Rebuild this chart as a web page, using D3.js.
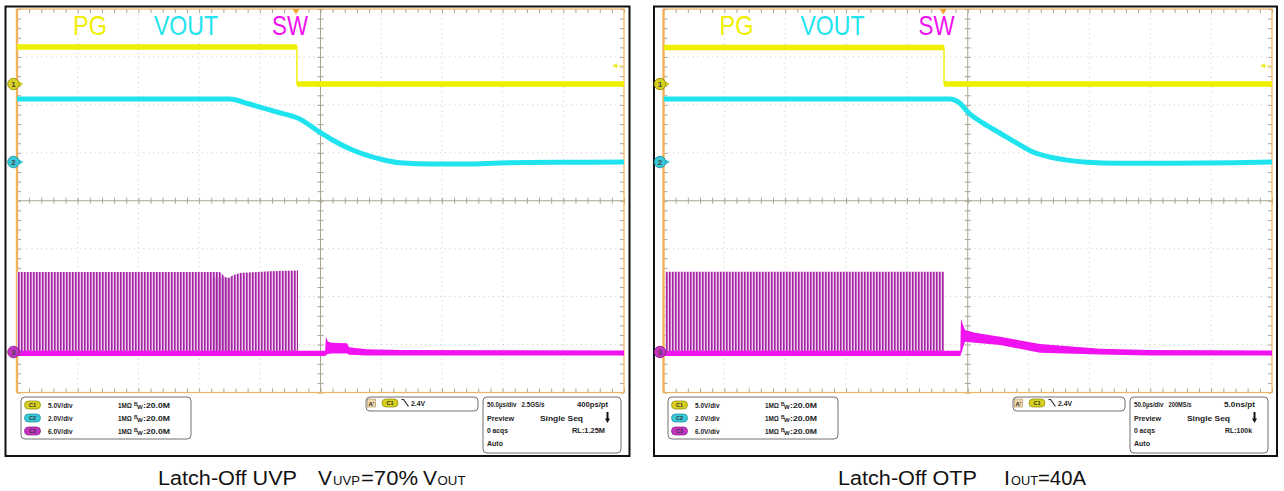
<!DOCTYPE html>
<html><head><meta charset="utf-8">
<script src="https://cdn.jsdelivr.net/npm/d3@7"></script>
<style>html,body{margin:0;padding:0;background:#fff;} svg{display:block;font-family:"Liberation Sans",Arial,sans-serif;}</style>
</head><body><svg id="c" width="1284" height="491"></svg>
<script>
// ================= DATA =================
const timeDomainUs = [0, 500];              // 10 div x 50 us/div
const channelLabels = ["PG", "VOUT", "SW"];
const voltsPerDiv = [5, 2, 6];
const channelOffsetDiv = [2.435, 0.808, -3.155];
const triggerTimeUs = 229.8;
const triggerArrowV = 1.9;

// Left scope: Latch-Off UVP   [time us, volts]
const pgUVP = [[0,3.86],[230.6,3.86],[230.6,0],[500,0]];
const voutUVP = [[0,2.63],[175,2.63],[191.4,2.42],[213.7,2.09],[232.7,1.80],[249.2,1.25],[259.9,0.92],[276.4,0.50],[298.7,0.13],[315.2,-0.03],[342.4,-0.08],[370.5,-0.08],[397.7,-0.04],[453,-0.01],[500,0]];
const swPulseTopUVP = [[0,10.0],[167.2,10.0],[170.5,9.5],[173.8,9.2],[177.9,9.6],[183.7,9.9],[208.4,10.1],[231.5,10.2]];
const swDenseUVP = [[161,176]];
// [time us, band top V, band bottom V]
const swBandUVP = [[0,0.15,-0.5],[253.8,0.15,-0.5],[254.5,1.9,-0.4],[256,1.3,-0.25],[259,1.15,-0.2],[271.8,1.1,-0.2],[273.5,0.6,-0.35],[288.3,0.35,-0.45],[315.5,0.25,-0.45],[500,0.2,-0.45]];

// Right scope: Latch-Off OTP
const pgOTP = [[0,3.8],[230.5,3.8],[230.5,0],[500,0]];
const voutOTP = [[0,2.63],[232.7,2.63],[235.2,2.63],[243.4,2.46],[250,2.09],[262.3,1.63],[276.3,1.21],[290.3,0.79],[303.5,0.42],[317.4,0.21],[331.4,0.08],[347.9,-0.01],[372.5,-0.05],[413.6,-0.05],[467.9,-0.03],[500,0]];
const swPulseTopOTP = [[1.5,10.05],[230.5,10.05]];
const swDenseOTP = [];
const swBandOTP = [[0,0.15,-0.5],[243.9,0.15,-0.5],[244.4,4.13,-0.3],[247.7,2.75,1.29],[255.9,2.42,1.16],[276.5,1.91,0.88],[309.4,1.0,-0.09],[358.7,0.4,-0.3],[399.8,0.25,-0.45],[500,0.2,-0.45]];

// Readout texts
const chScaleText = ["5.0V/div", "2.0V/div", "6.0V/div"];
const chCouplingText = "1MΩ";
const chBwText = "20.0M";
const triggerText = "2.4V";
const timebaseUVP = ["50.0µs/div", "2.5GS/s", "400ps/pt", "RL:1.25M"];
const timebaseOTP = ["50.0µs/div", "200MS/s", "5.0ns/pt", "RL:100k"];
const captionUVP = [["Latch-Off UVP", 0], ["V", 0], ["UVP", 1], ["=70%", 0], ["V", 0], ["OUT", 1]];
const captionOTP = [["Latch-Off OTP", 0], ["I", 0], ["OUT", 1], ["=40A", 0]];

// ================= STYLE / LAYOUT =================
const traceColors = ["#efef00", "#1fe3ee", "#f012f0"];
const pillFill = ["#d8d020", "#38c9da", "#c634c6"];
const pillStroke = ["#8c8600", "#168a98", "#7c187c"];

const svg = d3.select("#c");
const defs = svg.append("defs");
const pat = defs.append("pattern").attr("id", "swStripes")
  .attr("patternUnits", "userSpaceOnUse").attr("width", 3).attr("height", 8);
pat.append("rect").attr("width", 3).attr("height", 8).attr("fill", "#ebcdeb");
pat.append("rect").attr("width", 1).attr("height", 8).attr("fill", "#9e289e");
pat.append("rect").attr("x", 1).attr("width", 1).attr("height", 8).attr("fill", "#c860c8");

const panels = [
  { frame: [5.5, 6.5, 629.5, 456], grat: [17, 9, 624, 392.5], pg: pgUVP, vout: voutUVP, swTop: swPulseTopUVP, dense: swDenseUVP, swBand: swBandUVP, tb: timebaseUVP, dx: 0,
    caption: captionUVP, capX: [158, 318, 333, 361, 423, 437.5], capW: [139, 14, 27, 57, 14, 28] },
  { frame: [654, 6.5, 1277, 456], grat: [663.5, 9, 1272, 392.5], pg: pgOTP, vout: voutOTP, swTop: swPulseTopOTP, dense: swDenseOTP, swBand: swBandOTP, tb: timebaseOTP, dx: 647,
    caption: captionOTP, capX: [838, 1004, 1011, 1038], capW: [139, 6, 27, 48] }
];

panels.forEach((p, pi) => {
  const [gL, gT, gR, gB] = p.grat;
  const g = svg.append("g");
  const x = d3.scaleLinear().domain(timeDomainUs).range([gL, gR]);
  const yDiv = d3.scaleLinear().domain([-4, 4]).range([gB, gT]);
  const yCh = voltsPerDiv.map((vpd, i) => d3.scaleLinear()
    .domain([(-4 - channelOffsetDiv[i]) * vpd, (4 - channelOffsetDiv[i]) * vpd]).range([gB, gT]));
  const xC = x(250), yC = yDiv(0);
  const clipId = "clip" + pi;
  defs.append("clipPath").attr("id", clipId).append("rect")
    .attr("x", gL).attr("y", gT).attr("width", gR - gL).attr("height", gB - gT);

  // outer black frame
  g.append("rect").attr("x", p.frame[0]).attr("y", p.frame[1])
    .attr("width", p.frame[2] - p.frame[0]).attr("height", p.frame[3] - p.frame[1])
    .attr("fill", "#fff").attr("stroke", "#111").attr("stroke-width", 2);

  // dotted grid
  const grid = g.append("g").attr("stroke", "#c9c9c9").attr("stroke-width", 1).attr("stroke-dasharray", "1,3.86");
  d3.range(50, 500, 50).filter(t => t !== 250).forEach(t =>
    grid.append("line").attr("x1", x(t)).attr("x2", x(t)).attr("y1", gT).attr("y2", gB));
  d3.range(-3, 4, 1).filter(d => d !== 0).forEach(d =>
    grid.append("line").attr("x1", gL).attr("x2", gR).attr("y1", yDiv(d)).attr("y2", yDiv(d)));

  // crosshair with ticks (library axes)
  const axCol = "#aba392";
  const styleAx = sel => { sel.select(".domain").remove(); sel.selectAll("line").attr("stroke", axCol); };
  const minorT = d3.range(0, 500.01, 10);
  const minorV = d3.range(-4, 4.01, 0.2);
  g.append("line").attr("x1", gL).attr("x2", gR).attr("y1", yC).attr("y2", yC).attr("stroke", axCol);
  g.append("line").attr("x1", xC).attr("x2", xC).attr("y1", gT).attr("y2", gB).attr("stroke", axCol);
  g.append("g").attr("transform", `translate(0,${yC - 3})`)
    .call(d3.axisBottom(x).tickValues(minorT).tickSize(6).tickFormat("")).call(styleAx);
  g.append("g").attr("transform", `translate(${xC - 3},0)`)
    .call(d3.axisRight(yDiv).tickValues(minorV).tickSize(6).tickFormat("")).call(styleAx);
  // edge ticks
  g.append("g").attr("transform", `translate(0,${gT})`)
    .call(d3.axisBottom(x).tickValues(minorT).tickSize(4).tickFormat("")).call(styleAx);
  g.append("g").attr("transform", `translate(0,${gB})`)
    .call(d3.axisTop(x).tickValues(minorT).tickSize(4).tickFormat("")).call(styleAx);
  g.append("g").attr("transform", `translate(${gL},0)`)
    .call(d3.axisRight(yDiv).tickValues(minorV).tickSize(4).tickFormat("")).call(styleAx);
  g.append("g").attr("transform", `translate(${gR},0)`)
    .call(d3.axisLeft(yDiv).tickValues(minorV).tickSize(4).tickFormat("")).call(styleAx);

  // orange screen border
  g.append("rect").attr("x", gL).attr("y", gT).attr("width", gR - gL).attr("height", gB - gT)
    .attr("fill", "none").attr("stroke", "#f2b25e").attr("stroke-width", 1.2);
  g.append("line").attr("x1", gL).attr("x2", gL).attr("y1", gT).attr("y2", gB)
    .attr("stroke", "#f2b25e").attr("stroke-width", 2.4);

  const tr = g.append("g").attr("clip-path", `url(#${clipId})`);

  // SW pulses
  const ySW = yCh[2];
  tr.append("path").datum(p.swTop)
    .attr("d", d3.area().x(d => x(d[0])).y0(ySW(-0.2)).y1(d => ySW(d[1])))
    .attr("fill", "url(#swStripes)");
  p.dense.forEach(seg => {
    tr.append("rect").attr("x", x(seg[0])).attr("width", x(seg[1]) - x(seg[0]))
      .attr("y", ySW(9.3)).attr("height", ySW(-0.2) - ySW(9.3))
      .attr("fill", "#9a1c9a").attr("opacity", 0.22);
  });
  // SW baseline band
  tr.append("path").datum(p.swBand)
    .attr("d", d3.area().x(d => x(d[0])).y0(d => ySW(d[2])).y1(d => ySW(d[1])))
    .attr("fill", traceColors[2]);

  // VOUT
  tr.append("path").datum(p.vout)
    .attr("d", d3.line().x(d => x(d[0])).y(d => yCh[1](d[1])).curve(d3.curveMonotoneX))
    .attr("fill", "none").attr("stroke", traceColors[1]).attr("stroke-width", 5);

  // PG: thin edges + thick flat levels
  tr.append("path").datum(p.pg)
    .attr("d", d3.line().x(d => x(d[0])).y(d => yCh[0](d[1])))
    .attr("fill", "none").attr("stroke", traceColors[0]).attr("stroke-width", 1.4);
  d3.pairs(p.pg).filter(([a, b]) => a[1] === b[1]).forEach(([a, b]) => {
    tr.append("line").attr("x1", x(a[0])).attr("x2", x(b[0]))
      .attr("y1", yCh[0](a[1])).attr("y2", yCh[0](b[1]))
      .attr("stroke", traceColors[0]).attr("stroke-width", 5.5);
  });

  // trigger position marker and level arrow
  const tx = x(triggerTimeUs);
  g.append("path").attr("d", `M${tx - 3.5},${gT} L${tx + 3.5},${gT} L${tx},${gT + 5.5} Z`).attr("fill", "#f0a530");
  const ay = yCh[0](triggerArrowV);
  g.append("line").attr("x1", gR - 8).attr("x2", gR - 1).attr("y1", ay).attr("y2", ay)
    .attr("stroke", "#f2f060").attr("stroke-width", 1.2);
  g.append("path").attr("d", `M${gR - 12},${ay} L${gR - 7},${ay - 2.5} L${gR - 7},${ay + 2.5} Z`).attr("fill", "#eded30");

  // channel labels
  const labX = [56, 137, 255], labW = [34, 64, 36];
  channelLabels.forEach((s, i) => {
    g.append("text").attr("x", gL + labX[i]).attr("y", 35).attr("font-size", 28)
      .attr("textLength", labW[i]).attr("lengthAdjust", "spacingAndGlyphs")
      .attr("fill", traceColors[i]).text(s);
  });

  // channel ground markers
  yCh.forEach((ys, i) => {
    const my = ys(0), mx = gL - 3.5;
    g.append("path").attr("d", `M${gL + 2},${my - 2.5} L${gL + 6.5},${my} L${gL + 2},${my + 2.5} Z`).attr("fill", pillFill[i]);
    g.append("circle").attr("cx", mx).attr("cy", my).attr("r", 5.8)
      .attr("fill", pillFill[i]).attr("stroke", pillStroke[i]).attr("stroke-width", 0.8);
    g.append("text").attr("x", mx).attr("y", my + 2.7).attr("text-anchor", "middle")
      .attr("font-size", 8).attr("font-weight", "bold").attr("fill", "#444").text(i + 1);
  });

  // ---------- readout boxes ----------
  const dx = p.dx;
  const info = svg.append("g").attr("transform", `translate(${dx},0)`)
    .attr("font-weight", "bold").attr("fill", "#222");
  const box = (x0, y0, w, h) => info.append("rect").attr("x", x0).attr("y", y0).attr("width", w).attr("height", h)
    .attr("rx", 4).attr("fill", "#fff").attr("stroke", "#707070").attr("stroke-width", 1);
  const t = (s, x0, y0, w, anchor, fs) => {
    const e = info.append("text").attr("x", x0).attr("y", y0).attr("font-size", fs || 7.8).text(s);
    if (w) e.attr("textLength", w).attr("lengthAdjust", "spacingAndGlyphs");
    if (anchor) e.attr("text-anchor", anchor);
    return e;
  };
  const pill = (cx, cy, i) => {
    info.append("rect").attr("x", cx - 8).attr("y", cy - 4).attr("width", 16).attr("height", 8).attr("rx", 4)
      .attr("fill", pillFill[i]).attr("stroke", pillStroke[i]).attr("stroke-width", 0.7);
    info.append("text").attr("x", cx).attr("y", cy + 2).attr("text-anchor", "middle")
      .attr("font-size", 5.5).attr("fill", "#333").text("C" + (i + 1));
  };
  box(21, 397, 170, 42);
  const rowY = [405, 418, 431];
  chScaleText.forEach((s, i) => {
    pill(32.5, rowY[i], i);
    t(s, 48, rowY[i] + 2.8, 24.5);
    t(chCouplingText, 118, rowY[i] + 2.8, 14);
    info.append("text").attr("x", 134).attr("y", rowY[i] + 0.5).attr("font-size", 5).text("B");
    info.append("text").attr("x", 137).attr("y", rowY[i] + 3.5).attr("font-size", 6).text("W");
    t(":" + chBwText, 143, rowY[i] + 2.8, 27);
  });
  // trigger box
  box(366, 397, 112, 14);
  info.append("rect").attr("x", 367.5).attr("y", 399).attr("width", 8).attr("height", 8)
    .attr("fill", "#f3d8ac").attr("stroke", "#a88a60").attr("stroke-width", 0.6);
  info.append("text").attr("x", 368.5).attr("y", 405.5).attr("font-size", 6).text("A'");
  pill(390, 403, 0);
  info.append("path").attr("d", "M401.5,399.5 L403.5,399.5 L408.5,406.5").attr("fill", "none").attr("stroke", "#222").attr("stroke-width", 1.1);
  t(triggerText, 411, 406, 14);
  // timebase box
  box(483, 397, 138, 56);
  t(p.tb[0], 487, 406.5, 29.5, null, 6.6);
  t(p.tb[1], 521.5, 406.5, p.tb[1].length > 7 ? 25 : 23, null, 7.2);
  t(p.tb[2], 608, 406.5, 31, "end");
  t("Preview", 487, 420.5, 27);
  t("Single Seq", 540, 420.5, 43);
  t("0 acqs", 487, 432.8, 21);
  t(p.tb[3], 605, 432.8, p.tb[3].length > 7 ? 33 : 27, "end");
  t("Auto", 487, 446, 16);
  info.append("line").attr("x1", 607.5).attr("x2", 607.5).attr("y1", 412).attr("y2", 419)
    .attr("stroke", "#111").attr("stroke-width", 2);
  info.append("path").attr("d", "M605,418.5 L610,418.5 L607.5,423 Z").attr("fill", "#111");

  // caption
  p.caption.forEach((c, i) => {
    svg.append("text").attr("x", p.capX[i]).attr("y", 485)
      .attr("font-size", c[1] ? 13 : 20.5).attr("fill", "#111")
      .attr("textLength", p.capW[i]).attr("lengthAdjust", "spacingAndGlyphs").text(c[0]);
  });
});
</script></body></html>
